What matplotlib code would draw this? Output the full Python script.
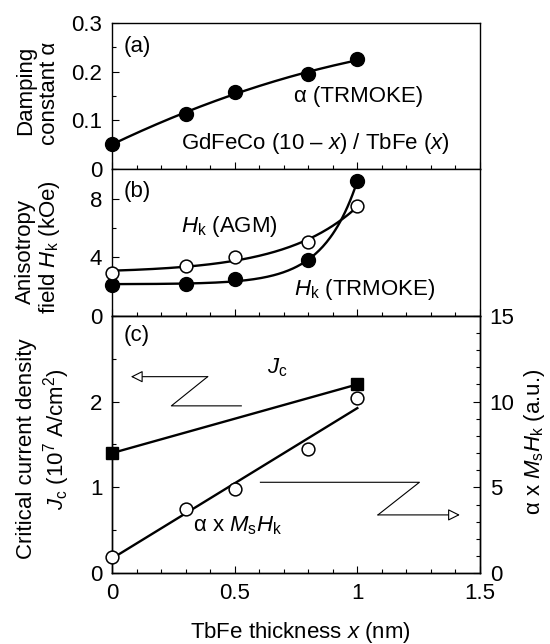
import numpy as np
import matplotlib
matplotlib.use("Agg")
import matplotlib.pyplot as plt
from matplotlib.patches import FancyArrowPatch
from matplotlib.ticker import MultipleLocator, FuncFormatter

plt.rcParams['font.family'] = ['Liberation Sans', 'DejaVu Sans']
plt.rcParams['mathtext.fontset'] = 'custom'
plt.rcParams['mathtext.rm'] = 'Liberation Sans'
plt.rcParams['mathtext.it'] = 'Liberation Sans:italic'
plt.rcParams['mathtext.bf'] = 'Liberation Sans:bold'

# TbFe thickness x (nm)
thick = [0.0, 0.3, 0.5, 0.8, 1.0]
# (a) damping constant from TRMOKE
alpha_trmoke = [0.051, 0.114, 0.159, 0.195, 0.225]
# (b) anisotropy field (kOe)
hk_trmoke = [2.09, 2.16, 2.48, 3.80, 9.20]
hk_agm = [2.93, 3.39, 4.00, 5.02, 7.50]
# (c) critical current density (1e7 A/cm2) and alpha x Ms Hk (a.u.)
jc_thick = [0.0, 1.0]
jc = [1.40, 2.20]
alpha_mshk = [0.97, 3.73, 4.93, 7.26, 10.19]

FS = 16
W, H = 550, 644


def exp_fit(x, y):
    # y = a + b*exp(c*x), grid search on c, least squares for a, b
    x = np.asarray(x)
    y = np.asarray(y)
    best = None
    for c in np.linspace(0.5, 12, 600):
        A = np.column_stack([np.ones_like(x), np.exp(c * x)])
        coef = np.linalg.lstsq(A, y, rcond=None)[0]
        err = np.sum((A @ coef - y) ** 2)
        if best is None or err < best[0]:
            best = (err, c, coef)
    _, c, (a, b) = best
    return lambda t: a + b * np.exp(c * t)


def style(ax):
    ax.tick_params(which='both', direction='in', top=False, right=False,
                   labelsize=FS, pad=7, width=0.8)
    ax.tick_params(which='major', length=5)
    ax.tick_params(which='minor', length=3)
    for s in ax.spines.values():
        s.set_linewidth(1.0)
    ax.set_xlim(0, 1.5)
    ax.xaxis.set_major_locator(MultipleLocator(0.5))
    ax.xaxis.set_minor_locator(MultipleLocator(0.1))
    ax.xaxis.set_major_formatter(FuncFormatter(lambda v, p: '%g' % v))
    ax.yaxis.set_major_formatter(FuncFormatter(lambda v, p: '%g' % v))


def fx(px):
    return px / W


def fy(py):
    return 1 - py / H


fig = plt.figure(figsize=(5.5, 6.44), dpi=100)
left, width = fx(112), 368 / W
ax1 = fig.add_axes([left, fy(169.3), width, (169.3 - 22.7) / H])
ax2 = fig.add_axes([left, fy(315.7), width, (315.7 - 169.3) / H])
ax3 = fig.add_axes([left, fy(573.3), width, (573.3 - 315.7) / H])
ax3r = ax3.twinx()

mk = dict(markersize=10, clip_on=False, zorder=5, linestyle='none')
mko = dict(markersize=9.2, clip_on=False, zorder=5, linestyle='none',
           markerfacecolor='white', markeredgecolor='black', markeredgewidth=1.1)
lw = 1.7
xs = np.linspace(0, 1, 200)

# (a)
style(ax1)
ax1.set_ylim(0, 0.3)
ax1.yaxis.set_major_locator(MultipleLocator(0.1))
ax1.yaxis.set_minor_locator(MultipleLocator(0.05))
ax1.tick_params(labelbottom=False)
p = np.polyfit(thick, alpha_trmoke, 2)
ax1.plot(xs, np.polyval(p, xs), color='black', lw=lw, clip_on=False)
ax1.plot(thick, alpha_trmoke, 'o', color='black', **mk)
ax1.text(0.046, 0.241, '(a)', fontsize=FS, va='baseline')
ax1.text(0.74, 0.138, 'α (TRMOKE)', fontsize=FS, va='baseline')
ax1.text(0.282, 0.0415, 'GdFeCo (10 – $x$) / TbFe ($x$)', fontsize=FS, va='baseline')

# (b)
style(ax2)
ax2.set_ylim(0, 10)
ax2.set_yticks([0, 4, 8])
ax2.yaxis.set_minor_locator(MultipleLocator(2))
ax2.tick_params(labelbottom=False)
f_tr = exp_fit(thick, hk_trmoke)
f_agm = exp_fit(thick, hk_agm)
ax2.plot(xs, f_tr(xs), color='black', lw=lw, clip_on=False)
ax2.plot(xs, f_agm(xs), color='black', lw=lw, clip_on=False)
ax2.plot(thick, hk_trmoke, 'o', color='black', **mk)
ax2.plot(thick, hk_agm, 'o', **mko)
ax2.text(0.046, 8.13, '(b)', fontsize=FS, va='baseline')
ax2.text(0.282, 5.74, '$H_\\mathrm{k}$ (AGM)', fontsize=FS, va='baseline')
ax2.text(0.74, 1.41, '$H_\\mathrm{k}$ (TRMOKE)', fontsize=FS, va='baseline')

# (c)
style(ax3)
ax3.set_ylim(0, 3)
ax3.set_yticks([0, 1, 2])
ax3.yaxis.set_minor_locator(MultipleLocator(0.5))
ax3r.set_ylim(0, 15)
ax3r.yaxis.set_major_locator(MultipleLocator(5))
ax3r.yaxis.set_minor_locator(MultipleLocator(1))
ax3r.tick_params(which='both', direction='in', labelsize=FS, pad=7, width=0.8)
ax3r.tick_params(which='major', length=5)
ax3r.tick_params(which='minor', length=3)
for s in ax3r.spines.values():
    s.set_linewidth(1.0)

ax3.plot(jc_thick, jc, color='black', lw=lw, clip_on=False)
ax3.plot(jc_thick, jc, 's', color='black', markersize=9, clip_on=False, zorder=5)
lin = np.polyfit(thick, alpha_mshk, 1)
ax3r.plot(xs, np.polyval(lin, xs), color='black', lw=lw, clip_on=False)
ax3r.plot(thick, alpha_mshk, 'o', **mko)

ax3.text(0.046, 2.70, '(c)', fontsize=FS, va='baseline')
ax3.text(0.633, 2.33, '$J_\\mathrm{c}$', fontsize=FS, va='baseline')
ax3.text(0.332, 0.485, 'α x $M_\\mathrm{s}H_\\mathrm{k}$', fontsize=FS, va='baseline')

# direction arrows
ax3.plot([0.527, 0.242, 0.39], [1.95, 1.95, 2.29], color='black', lw=0.8)
ax3.add_patch(FancyArrowPatch((0.39, 2.29), (0.077, 2.29),
                              arrowstyle='-|>,head_length=0.6,head_width=0.3',
                              mutation_scale=12, fc='white', ec='black', lw=0.8,
                              shrinkA=0, shrinkB=0))
ax3.plot([0.605, 1.253, 1.084], [1.06, 1.06, 0.68], color='black', lw=0.8)
ax3.add_patch(FancyArrowPatch((1.084, 0.68), (1.418, 0.68),
                              arrowstyle='-|>,head_length=0.6,head_width=0.3',
                              mutation_scale=12, fc='white', ec='black', lw=0.8,
                              shrinkA=0, shrinkB=0))

# axis labels
lab = dict(fontsize=FS, rotation=90, rotation_mode='anchor', ha='center', va='baseline')
fig.text(fx(31), fy(90), 'Damping', **lab)
fig.text(fx(55), fy(93), 'constant α', **lab)
fig.text(fx(31), fy(251.7), 'Anisotropy', **lab)
fig.text(fx(55), fy(247.5), 'field $H_\\mathrm{k}$ (kOe)', **lab)
fig.text(fx(32), fy(449), 'Critical current density', **lab)
fig.text(fx(64), fy(439.5), '$J_\\mathrm{c}$ (10$^7$ A/cm$^2$)', **lab)
fig.text(fx(540), fy(441.5), 'α x $M_\\mathrm{s}H_\\mathrm{k}$ (a.u.)', **lab)
fig.text(fx(300), fy(638), 'TbFe thickness $x$ (nm)', fontsize=FS, ha='center', va='baseline')

fig.savefig('out.png', dpi=100)
